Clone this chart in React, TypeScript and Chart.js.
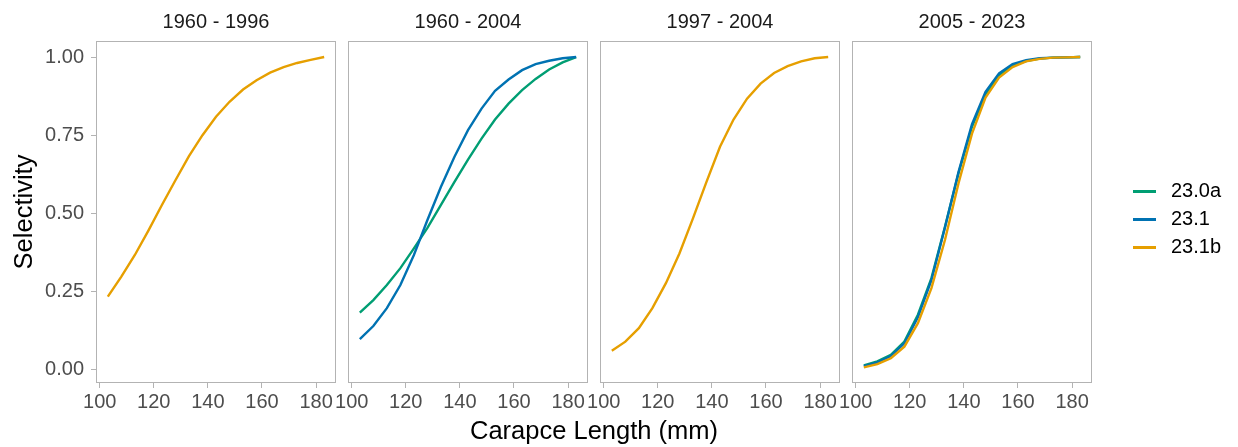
import React, { useEffect, useRef } from 'react';
import { Chart, registerables } from 'chart.js';

Chart.register(...registerables);

// ---------------- data ----------------
const lengths = [103, 108, 113, 118, 123, 128, 133, 138, 143, 148, 153, 158, 163, 168, 173, 178, 183];
const xTicks = [100, 120, 140, 160, 180];
const yTicks = [0, 0.25, 0.5, 0.75, 1];
const periods = ['1960 - 1996', '1960 - 2004', '1997 - 2004', '2005 - 2023'];
const seriesNames = ['23.0a', '23.1', '23.1b'];
const seriesColors = ['#009E73', '#0072B2', '#E69F00'];

const p1_231b = [0.234, 0.298, 0.367, 0.445, 0.527, 0.606, 0.683, 0.75, 0.809, 0.857, 0.896, 0.926, 0.95, 0.968, 0.981, 0.991, 1.0];
const p2_230a = [0.183, 0.223, 0.271, 0.325, 0.388, 0.454, 0.527, 0.601, 0.672, 0.739, 0.8, 0.851, 0.894, 0.93, 0.96, 0.983, 1.0];
const p2_231 = [0.098, 0.14, 0.197, 0.271, 0.367, 0.479, 0.585, 0.681, 0.766, 0.835, 0.892, 0.928, 0.958, 0.977, 0.988, 0.996, 1.0];
const p3_231b = [0.061, 0.09, 0.133, 0.197, 0.277, 0.372, 0.484, 0.601, 0.713, 0.8, 0.867, 0.915, 0.949, 0.971, 0.986, 0.996, 1.0];
const p4_230a = [0.014, 0.027, 0.048, 0.09, 0.176, 0.293, 0.457, 0.628, 0.777, 0.881, 0.942, 0.973, 0.987, 0.995, 0.998, 0.999, 1.0];
const p4_231 = [0.012, 0.024, 0.044, 0.085, 0.168, 0.287, 0.455, 0.632, 0.785, 0.889, 0.948, 0.977, 0.99, 0.996, 0.998, 0.999, 1.0];
const p4_231b = [0.008, 0.018, 0.037, 0.074, 0.149, 0.261, 0.415, 0.596, 0.755, 0.87, 0.934, 0.968, 0.986, 0.994, 0.998, 0.999, 1.0];

const panelSeries: (number[] | null)[][] = [
  [null, null, p1_231b],
  [p2_230a, p2_231, null],
  [null, null, p3_231b],
  [p4_230a, p4_231, p4_231b],
];

const xTitle = 'Carapce Length (mm)';
const yTitle = 'Selectivity';

// ---------------- layout ----------------
const FONT = "'Liberation Sans', Arial, Helvetica, sans-serif";
const PANEL_LEFT = [97, 349, 601, 853];
const PANEL_W = 238;
const CANVAS_H = 439;
const PLOT_BOTTOM = 382;
const SIDE_PAD = 24;
const Y_AXIS_W = 97;
const PAGE_W = 1238;
const LEGEND_GAP = 34;
const LEGEND_W = PAGE_W - (PANEL_LEFT[3] + PANEL_W) - LEGEND_GAP;
const GRAY = '#b3b3b3';

function makeSwatch(color: string) {
  const c = document.createElement('canvas');
  c.width = 28;
  c.height = 3;
  const g = c.getContext('2d');
  if (g) {
    g.fillStyle = color;
    g.fillRect(0, 0, 23, 3);
  }
  return c;
}

const panelBorder = {
  id: 'panelBorder',
  beforeDatasetsDraw(chart: any) {
    const { ctx, chartArea } = chart;
    ctx.save();
    ctx.strokeStyle = GRAY;
    ctx.lineWidth = 1;
    ctx.strokeRect(
      Math.round(chartArea.left) - 0.5,
      Math.round(chartArea.top) - 0.5,
      Math.round(chartArea.right - chartArea.left) + 1,
      Math.round(chartArea.bottom - chartArea.top) + 1
    );
    ctx.restore();
  },
};

// fixes the legend box to a set width so the last panel keeps its place
const legendWidthFix = {
  id: 'legendWidthFix',
  beforeLayout(chart: any) {
    const lg = chart.legend;
    if (!lg || lg.__fixed) return;
    const orig = lg.fit.bind(lg);
    lg.fit = function () {
      orig();
      lg.width = LEGEND_W;
    };
    lg.__fixed = true;
  },
};

function Panel({ index }: { index: number }) {
  const ref = useRef<HTMLCanvasElement | null>(null);
  const isFirst = index === 0;
  const isLast = index === 3;
  const left = isFirst ? 0 : PANEL_LEFT[index] - SIDE_PAD;
  const right = isLast ? PAGE_W : PANEL_LEFT[index] + PANEL_W + SIDE_PAD;
  const width = right - left;

  useEffect(() => {
    if (!ref.current) return;
    const datasets: any[] = [];
    panelSeries[index].forEach((vals, s) => {
      if (!vals) return;
      datasets.push({
        label: seriesNames[s],
        data: vals.map((v, i) => ({ x: lengths[i], y: v })),
        borderColor: seriesColors[s],
        backgroundColor: seriesColors[s],
        borderWidth: 2.4,
        pointRadius: 0,
        pointHoverRadius: 0,
        tension: 0,
        fill: false,
        order: 3 - s,
      });
    });

    const tickGrid = {
      display: true,
      drawOnChartArea: false,
      drawTicks: true,
      tickLength: 6,
      color: GRAY,
      lineWidth: 1,
    };

    const scales: any = {
      x: {
        type: 'linear',
        min: 99,
        max: 187,
        afterBuildTicks: (s: any) => {
          s.ticks = xTicks.map((v) => ({ value: v }));
        },
        afterFit: (s: any) => {
          s.height = CANVAS_H - PLOT_BOTTOM;
        },
        ticks: {
          autoSkip: false,
          maxRotation: 0,
          padding: 2,
          color: '#4d4d4d',
          font: { size: 20, family: FONT },
          callback: (v: any) => String(v),
        },
        grid: tickGrid,
        border: { display: false },
      },
      y: {
        type: 'linear',
        min: -0.039,
        max: 1.048,
        display: isFirst,
        afterBuildTicks: (s: any) => {
          s.ticks = yTicks.map((v) => ({ value: v }));
        },
        ticks: {
          padding: 7,
          color: '#4d4d4d',
          font: { size: 20, family: FONT },
          callback: (v: any) => Number(v).toFixed(2),
        },
        grid: tickGrid,
        border: { display: false },
        title: {
          display: isFirst,
          text: yTitle,
          color: '#000000',
          font: { size: 25.5, family: FONT },
          padding: { top: 10, bottom: 0 },
        },
      },
    };
    if (isFirst) {
      scales.y.afterFit = (s: any) => {
        s.width = Y_AXIS_W;
      };
    }
    if (isLast) {
      scales.yGap = {
        type: 'linear',
        position: 'right',
        display: true,
        ticks: { display: false },
        grid: { display: false },
        border: { display: false },
        afterFit: (s: any) => {
          s.width = LEGEND_GAP;
        },
      };
    }

    const chart = new Chart(ref.current, {
      type: 'line',
      data: { datasets },
      options: {
        responsive: false,
        animation: false,
        devicePixelRatio: 1,
        layout: { padding: { left: isFirst ? 0 : SIDE_PAD, right: isLast ? 0 : SIDE_PAD, top: 0, bottom: 0 } },
        scales,
        plugins: {
          title: {
            display: true,
            text: periods[index],
            fullSize: false,
            color: '#1a1a1a',
            font: { size: 20, weight: 'normal', family: FONT },
            padding: { top: 10, bottom: 8 },
          },
          legend: {
            display: isLast,
            position: 'right',
            fullSize: true,
            labels: {
              usePointStyle: true,
              pointStyleWidth: 28,
              padding: 8,
              color: '#000000',
              font: { size: 20, family: FONT },
              sort: (a: any, b: any) => a.datasetIndex - b.datasetIndex,
              generateLabels: (c: any) =>
                (Chart.defaults.plugins.legend.labels as any).generateLabels(c).map((item: any) => ({
                  ...item,
                  pointStyle: makeSwatch(c.data.datasets[item.datasetIndex].borderColor),
                })),
            },
          } as any,
          tooltip: { enabled: false },
        },
        events: [],
      } as any,
      plugins: isLast ? [panelBorder, legendWidthFix] : [panelBorder],
    });
    return () => chart.destroy();
  }, [index]);

  return (
    <canvas
      ref={ref}
      width={width}
      height={CANVAS_H}
      style={{ position: 'absolute', left, top: 0, width, height: CANVAS_H, display: 'block' }}
    />
  );
}

export default function App() {
  return (
    <div style={{ position: 'absolute', left: 0, top: 0, width: PAGE_W, height: 447, background: '#ffffff', overflow: 'hidden' }}>
      {[0, 1, 2, 3].map((i) => (
        <Panel key={i} index={i} />
      ))}
      <div
        style={{
          position: 'absolute',
          left: PANEL_LEFT[0],
          width: PANEL_LEFT[3] + PANEL_W - PANEL_LEFT[0],
          top: 415,
          textAlign: 'center',
          fontFamily: FONT,
          fontSize: '25.5px',
          lineHeight: '30px',
          color: '#000000',
          whiteSpace: 'nowrap',
        }}
      >
        {xTitle}
      </div>
    </div>
  );
}
